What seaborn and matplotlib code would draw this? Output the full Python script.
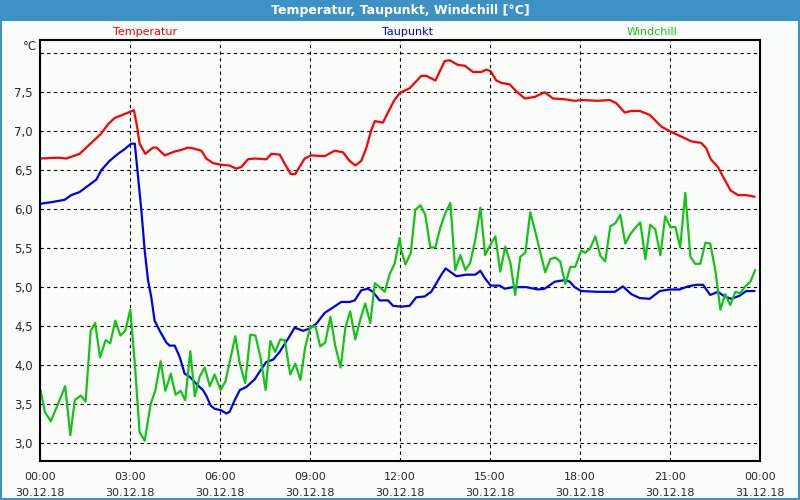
import numpy as np
import pandas as pd
import seaborn as sns
import matplotlib.pyplot as plt
from matplotlib.patches import Rectangle

# Stunden ab 30.12.18 00:00 und Werte in °C
temp_h = [0.0, 0.6, 0.88, 1.32, 1.71, 2.04, 2.27, 2.49, 2.82, 3.13, 3.24, 3.32, 3.51, 3.77, 3.88,
          4.16, 4.49, 4.71, 4.93, 5.1, 5.38, 5.54, 5.77, 6.04, 6.32, 6.54, 6.71, 6.93, 7.16, 7.55,
          7.71, 7.99, 8.16, 8.36, 8.51, 8.82, 9.04, 9.49, 9.82, 10.1, 10.32, 10.51, 10.71, 10.88,
          11.04, 11.16, 11.43, 11.6, 11.8, 11.99, 12.32, 12.71, 12.88, 13.18, 13.49, 13.66, 13.93,
          14.16, 14.43, 14.71, 14.88, 15.02, 15.21, 15.38, 15.66, 15.88, 16.16, 16.49, 16.82, 17.1,
          17.49, 17.82, 18.1, 18.6, 18.99, 19.21, 19.49, 19.71, 19.99, 20.32, 20.71, 20.99, 21.38,
          21.71, 22.04, 22.21, 22.36, 22.6, 22.82, 23.02, 23.27, 23.54, 23.82]
temp_v = [6.65, 6.66, 6.65, 6.71, 6.85, 6.97, 7.09, 7.17, 7.22, 7.27, 7.05, 6.84, 6.71, 6.79, 6.79,
          6.69, 6.74, 6.76, 6.79, 6.78, 6.75, 6.65, 6.59, 6.57, 6.56, 6.52, 6.54, 6.64, 6.65, 6.64,
          6.71, 6.70, 6.58, 6.45, 6.45, 6.65, 6.69, 6.68, 6.75, 6.73, 6.62, 6.56, 6.62, 6.79,
          7.01, 7.13, 7.11, 7.24, 7.39, 7.49, 7.55, 7.71, 7.71, 7.65, 7.90, 7.91, 7.85,
          7.84, 7.76, 7.76, 7.79, 7.77, 7.65, 7.62, 7.60, 7.51, 7.42, 7.44, 7.50, 7.42,
          7.41, 7.39, 7.40, 7.39, 7.40, 7.36, 7.24, 7.26, 7.26, 7.21, 7.06, 7.00, 6.93,
          6.87, 6.85, 6.78, 6.64, 6.54, 6.38, 6.24, 6.18, 6.18, 6.16]

tau_h = [0.02, 0.38, 0.82, 1.04, 1.32, 1.6, 1.88, 2.04, 2.32, 2.6, 2.82, 3.04, 3.16, 3.27, 3.38,
         3.49, 3.6, 3.71, 3.82, 3.99, 4.21, 4.32, 4.49, 4.66, 4.82, 4.99, 5.21, 5.43, 5.54, 5.69,
         5.82, 6.04, 6.21, 6.32, 6.49, 6.66, 6.88, 7.16, 7.38, 7.54, 7.77, 7.99, 8.27, 8.49, 8.77,
         8.99, 9.21, 9.49, 9.77, 10.04, 10.32, 10.49, 10.71, 10.93, 11.1, 11.32, 11.6, 11.77,
         12.04, 12.32, 12.54, 12.82, 13.04, 13.21, 13.38, 13.52, 13.88, 14.21, 14.51, 14.68,
         14.82, 15.02, 15.32, 15.49, 15.77, 16.21, 16.6, 16.82, 17.16, 17.49, 17.66, 17.82, 18.04,
         18.6, 19.16, 19.43, 19.71, 19.99, 20.32, 20.66, 20.99, 21.32, 21.6, 21.88, 22.1, 22.34,
         22.6, 22.82, 23.04, 23.32, 23.54, 23.82]
tau_v = [6.07, 6.09, 6.12, 6.18, 6.22, 6.30, 6.38, 6.50, 6.62, 6.71, 6.77, 6.84, 6.84, 6.41, 5.98,
         5.47, 5.09, 4.87, 4.57, 4.44, 4.29, 4.25, 4.25, 4.10, 3.89, 3.85, 3.76, 3.68, 3.61, 3.48,
         3.44, 3.42, 3.38, 3.40, 3.55, 3.68, 3.72, 3.82, 3.95, 4.04, 4.07, 4.17, 4.34, 4.48, 4.44,
         4.47, 4.53, 4.67, 4.74, 4.81, 4.81, 4.83, 4.96, 4.98, 4.94, 4.83, 4.83, 4.76,
         4.75, 4.76, 4.87, 4.88, 4.94, 5.05, 5.16, 5.24, 5.14, 5.16, 5.16, 5.21,
         5.12, 5.02, 5.02, 4.98, 5.00, 5.00, 4.97, 4.98, 5.07, 5.09, 5.07, 5.00, 4.95,
         4.94, 4.94, 5.01, 4.91, 4.86, 4.85, 4.95, 4.97, 4.97, 5.01, 5.03, 5.03, 4.90,
         4.94, 4.88, 4.85, 4.89, 4.95, 4.95]

wind_h = [0.02, 0.16, 0.36, 0.6, 0.84, 1.01, 1.16, 1.36, 1.52, 1.69, 1.84, 2.0, 2.19, 2.34, 2.51,
          2.68, 2.84, 3.01, 3.16, 3.32, 3.49, 3.69, 3.84, 4.02, 4.18, 4.36, 4.52, 4.69, 4.84, 5.01,
          5.16, 5.32, 5.49, 5.66, 5.82, 6.02, 6.18, 6.51, 6.66, 6.84, 7.01, 7.18, 7.35, 7.52, 7.68,
          7.84, 8.01, 8.16, 8.34, 8.51, 8.68, 8.84, 9.01, 9.18, 9.34, 9.51, 9.68, 9.84, 10.02,
          10.18, 10.34, 10.51, 10.68, 10.84, 11.01, 11.16, 11.32, 11.49, 11.66, 11.82, 11.99,
          12.04, 12.18, 12.36, 12.51, 12.68, 12.84, 13.01, 13.18, 13.34, 13.51, 13.68, 13.84,
          14.01, 14.18, 14.34, 14.51, 14.68, 14.84, 15.01, 15.18, 15.34, 15.51, 15.68, 15.84,
          16.01, 16.18, 16.34, 16.51, 16.68, 16.84, 17.01, 17.18, 17.34, 17.51, 17.68, 17.84,
          18.04, 18.18, 18.34, 18.51, 18.68, 18.84, 19.01, 19.18, 19.34, 19.51, 19.68, 19.84,
          20.01, 20.18, 20.34, 20.51, 20.68, 20.84, 21.01, 21.18, 21.34, 21.51, 21.68, 21.84,
          22.01, 22.18, 22.34, 22.51, 22.68, 22.84, 23.01, 23.18, 23.34, 23.51, 23.68, 23.84]
wind_v = [3.68, 3.40, 3.28, 3.50, 3.73, 3.10, 3.55, 3.61, 3.53, 4.44, 4.54, 4.10, 4.32, 4.28, 4.57,
          4.38, 4.44, 4.71, 4.02, 3.14, 3.03, 3.50, 3.67, 4.05, 3.67, 3.89, 3.62, 3.67, 3.55, 4.18,
          3.60, 3.85, 3.97, 3.73, 3.88, 3.68, 3.79, 4.37, 4.02, 3.77, 4.39, 4.38, 4.10, 3.68, 4.31,
          4.17, 4.33, 4.32, 3.88, 4.02, 3.81, 4.23, 4.49, 4.50, 4.24, 4.29, 4.62, 4.25, 3.97,
          4.48, 4.69, 4.33, 4.59, 4.79, 4.54, 5.05, 5.00, 4.94, 5.17, 5.30, 5.63,
          5.48, 5.29, 5.44, 5.99, 6.05, 5.93, 5.51, 5.51, 5.76, 5.95, 6.08, 5.22,
          5.41, 5.22, 5.31, 5.61, 6.02, 5.41, 5.54, 5.65, 5.20, 5.52, 5.31, 4.90,
          5.39, 5.44, 5.96, 5.71, 5.44, 5.19, 5.36, 5.38, 5.33, 5.04, 5.26, 5.26,
          5.47, 5.44, 5.50, 5.65, 5.40, 5.33, 5.78, 5.82, 5.93, 5.56, 5.68, 5.76,
          5.83, 5.36, 5.80, 5.74, 5.41, 5.91, 5.77, 5.77, 5.51, 6.21, 5.39, 5.30,
          5.30, 5.57, 5.56, 5.22, 4.71, 4.91, 4.77, 4.94, 4.92, 5.01, 5.07, 5.22]

x_ticks = [0, 3, 6, 9, 12, 15, 18, 21, 24]
x_labels = ['00:00\n30.12.18', '03:00\n30.12.18', '06:00\n30.12.18', '09:00\n30.12.18',
            '12:00\n30.12.18', '15:00\n30.12.18', '18:00\n30.12.18', '21:00\n30.12.18',
            '00:00\n31.12.18']
y_ticks = [3.0, 3.5, 4.0, 4.5, 5.0, 5.5, 6.0, 6.5, 7.0, 7.5, 8.0]

farben = {'Temperatur': '#ff0000', 'Taupunkt': '#0000ee', 'Windchill': '#14c414'}

df = pd.concat([
    pd.DataFrame({'stunde': temp_h, 'wert': temp_v, 'reihe': 'Temperatur'}),
    pd.DataFrame({'stunde': tau_h, 'wert': tau_v, 'reihe': 'Taupunkt'}),
    pd.DataFrame({'stunde': wind_h, 'wert': wind_v, 'reihe': 'Windchill'}),
])

sns.set_style("white")
plt.rcParams['font.family'] = ['DejaVu Sans']

bg = '#fbfdfb'
fig = plt.figure(figsize=(8, 5), dpi=100, facecolor=bg)
ax = fig.add_axes([0.05, 0.078, 0.9, 0.842], facecolor=bg)

sns.lineplot(data=df, x='stunde', y='wert', hue='reihe', palette=farben,
             estimator=None, linewidth=1.6, legend=False, ax=ax)

ax.set_xlim(0, 24)
ax.set_ylim(2.77, 8.17)
ax.set_xticks(x_ticks)
ax.set_xticklabels(x_labels, fontsize=8)
for lbl in ax.get_xticklabels():
    lbl.set_linespacing(1.7)
ax.set_xticks(range(25), minor=True)
ax.set_yticks(y_ticks)
ax.set_yticklabels([f'{v:.1f}'.replace('.', ',') if v < 8 else '' for v in y_ticks], fontsize=8.5)
ax.tick_params(axis='x', which='both', direction='out', length=3, width=1, color='black', pad=5)
ax.tick_params(axis='y', length=0, pad=5)
ax.grid(True, color='black', linestyle=(0, (3, 3)), linewidth=0.8)
ax.set_xlabel('')
ax.set_ylabel('')
for s in ax.spines.values():
    s.set_color('black')
    s.set_linewidth(1.5)

# Titelleiste und Rahmen
fig.patches.append(Rectangle((0, 1 - 21 / 500), 1, 21 / 500, transform=fig.transFigure,
                             facecolor='#3d92c5', edgecolor='none'))
for r in [(0, 0, 2 / 800, 1), (1 - 2 / 800, 0, 2 / 800, 1), (0, 0, 1, 2 / 500)]:
    fig.patches.append(Rectangle(r[:2], r[2], r[3], transform=fig.transFigure,
                                 facecolor='#3d92c5', edgecolor='none'))
fig.text(0.5, 1 - 10.5 / 500, 'Temperatur, Taupunkt, Windchill [°C]', color='white',
         fontsize=9, fontweight='bold', ha='center', va='center')

# Legende als farbiger Text
fig.text(145 / 800, 1 - 32 / 500, 'Temperatur', color=farben['Temperatur'], fontsize=8, ha='center', va='center')
fig.text(407 / 800, 1 - 32 / 500, 'Taupunkt', color=farben['Taupunkt'], fontsize=8, ha='center', va='center')
fig.text(652 / 800, 1 - 32 / 500, 'Windchill', color=farben['Windchill'], fontsize=8, ha='center', va='center')
fig.text(37 / 800, 1 - 46 / 500, '°C', fontsize=8.5, ha='right', va='center')

fig.savefig('out.png', dpi=100, facecolor=bg)
